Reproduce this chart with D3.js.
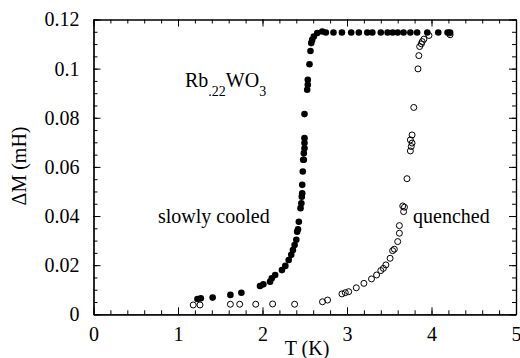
<!DOCTYPE html>
<html>
<head>
<meta charset="utf-8">
<script src="https://cdn.jsdelivr.net/npm/d3@7"></script>
<style>
  body { margin: 0; background: #fff; }
  svg text { font-family: 'Liberation Serif', 'Times New Roman', Times, serif; fill: #000; }
</style>
</head>
<body>
<div class="chart"></div>
<script>
// T (K) and dM (mH)
var slowT = [1.23, 1.27, 1.41, 1.62, 1.75, 1.97, 2.01, 2.09, 2.11, 2.15, 2.23, 2.27, 2.31, 2.34, 2.36, 2.38, 2.40,
  2.41, 2.42, 2.43, 2.45, 2.46, 2.465, 2.47, 2.47, 2.477, 2.482, 2.489, 2.489, 2.497, 2.497, 2.497, 2.497,
  2.529, 2.536, 2.536, 2.556, 2.568, 2.577, 2.588, 2.607, 2.648, 2.707, 2.75, 2.84, 2.94, 3.05, 3.14, 3.24,
  3.30, 3.40, 3.48, 3.54, 3.60, 3.67, 3.75, 3.83, 3.95, 4.08, 4.19, 4.22];
var slowM = [0.0062, 0.0065, 0.0068, 0.0079, 0.0088, 0.0115, 0.0122, 0.0133, 0.0147, 0.0160, 0.0180, 0.0197, 0.0221,
  0.0242, 0.0262, 0.0282, 0.0303, 0.0336, 0.0346, 0.0377, 0.0432, 0.0452, 0.0479, 0.0493, 0.0527, 0.0581,
  0.0629, 0.0629, 0.0656, 0.0676, 0.0697, 0.0717, 0.0815, 0.0914, 0.0934, 0.0955, 0.1018, 0.1072, 0.1104,
  0.1117, 0.1131, 0.1145, 0.1151, 0.1147, 0.1147, 0.1147, 0.1147, 0.1147, 0.1147, 0.1147, 0.1147, 0.1147,
  0.1147, 0.1147, 0.1147, 0.1147, 0.1147, 0.1147, 0.1147, 0.1147, 0.1147];

var quenchT = [1.18, 1.26, 1.62, 1.73, 1.92, 2.12, 2.38, 2.71, 2.77, 2.94, 2.98, 3.02, 3.11, 3.20, 3.29, 3.35,
  3.40, 3.43, 3.46, 3.51, 3.54, 3.56, 3.60, 3.62, 3.62, 3.67, 3.68, 3.66, 3.71, 3.75, 3.76, 3.77, 3.75,
  3.77, 3.79, 3.84, 3.85, 3.86, 3.88, 3.89, 3.91, 3.97, 4.21, 4.22];
var quenchM = [0.0038, 0.0038, 0.0041, 0.0041, 0.0041, 0.0042, 0.0041, 0.0051, 0.0058, 0.0083, 0.0088, 0.0092,
  0.0108, 0.0126, 0.0144, 0.0160, 0.0178, 0.0187, 0.0201, 0.0228, 0.0259, 0.0265, 0.0296, 0.0330, 0.0361,
  0.0418, 0.0436, 0.0441, 0.0552, 0.0665, 0.0683, 0.0697, 0.0710, 0.0730, 0.0842, 0.0999, 0.1053, 0.1090,
  0.1101, 0.1110, 0.1120, 0.1135, 0.1145, 0.1138];

var xTicks = [0, 1, 2, 3, 4, 5];
var yTicks = [0, 0.02, 0.04, 0.06, 0.08, 0.1, 0.12];
var yTickLabels = ['0', '0.02', '0.04', '0.06', '0.08', '0.1', '0.12'];

var svg_width = 520, svg_height = 358,
    svg = d3.select('.chart').append('svg').attr('width', svg_width).attr('height', svg_height),
    pLeft = 93.5, pRight = 516, pTop = 19.5, pBottom = 314.3;

var x = d3.scaleLinear().domain([0, 5]).range([pLeft, pRight]);
var y = d3.scaleLinear().domain([0, 0.12]).range([pBottom, pTop]);

var xMinor = d3.range(0, 5.0001, 0.2);
var yMinor = d3.range(0, 0.12001, 0.005);

var g = svg.append('g');

// bottom
g.append('g').attr('transform', 'translate(0,' + pBottom + ')')
  .call(d3.axisBottom(x).tickValues(xMinor).tickSize(-4).tickSizeOuter(0).tickFormat(''));
g.append('g').attr('transform', 'translate(0,' + pBottom + ')')
  .call(d3.axisBottom(x).tickValues(xTicks).tickSize(-7).tickSizeOuter(0).tickPadding(13).tickFormat(d3.format('d')));
// top
g.append('g').attr('transform', 'translate(0,' + pTop + ')')
  .call(d3.axisTop(x).tickValues(xMinor).tickSize(-4).tickSizeOuter(0).tickFormat(''));
g.append('g').attr('transform', 'translate(0,' + pTop + ')')
  .call(d3.axisTop(x).tickValues(xTicks).tickSize(-7).tickSizeOuter(0).tickFormat(''));
// left
g.append('g').attr('transform', 'translate(' + pLeft + ',0)')
  .call(d3.axisLeft(y).tickValues(yMinor).tickSize(-4).tickSizeOuter(0).tickFormat(''));
g.append('g').attr('transform', 'translate(' + pLeft + ',0)')
  .call(d3.axisLeft(y).tickValues(yTicks).tickSize(-7).tickSizeOuter(0).tickPadding(14)
    .tickFormat(function(d, i) { return yTickLabels[i]; }));
// right
g.append('g').attr('transform', 'translate(' + pRight + ',0)')
  .call(d3.axisRight(y).tickValues(yMinor).tickSize(-4).tickSizeOuter(0).tickFormat(''));
g.append('g').attr('transform', 'translate(' + pRight + ',0)')
  .call(d3.axisRight(y).tickValues(yTicks).tickSize(-7).tickSizeOuter(0).tickFormat(''));

g.selectAll('.domain').attr('stroke', '#000').attr('stroke-width', 1.2);
g.selectAll('.tick line').attr('stroke', '#000').attr('stroke-width', 1);
g.selectAll('.tick text').attr('font-size', 20).attr('fill', '#000');
g.selectAll('g').attr('font-family', null).attr('font-size', null);

// axis titles
svg.append('text').attr('x', 307).attr('y', 355).attr('text-anchor', 'middle')
  .attr('font-size', 20).text('T (K)');
svg.append('text').attr('transform', 'translate(26,166) rotate(-90)').attr('text-anchor', 'middle')
  .attr('font-size', 20).text('\u0394M (mH)');

// annotations
var lab = svg.append('text').attr('x', 185).attr('y', 87).attr('font-size', 20);
lab.append('tspan').text('Rb');
lab.append('tspan').attr('dy', 9).attr('font-size', 14).text('.22');
lab.append('tspan').attr('dy', -9).text('WO');
lab.append('tspan').attr('dy', 9).attr('font-size', 14).text('3');
svg.append('text').attr('x', 158).attr('y', 223).attr('font-size', 20).text('slowly cooled');
svg.append('text').attr('x', 413).attr('y', 223).attr('font-size', 20).text('quenched');

// data
var slow = slowT.map(function(t, i) { return {t: t, m: slowM[i]}; });
var quench = quenchT.map(function(t, i) { return {t: t, m: quenchM[i]}; });

svg.selectAll('.q').data(quench).enter().append('circle')
  .attr('class', 'q')
  .attr('cx', function(d) { return x(d.t); })
  .attr('cy', function(d) { return y(d.m); })
  .attr('r', 3).attr('fill', 'none').attr('stroke', '#000').attr('stroke-width', 1);

svg.selectAll('.s').data(slow).enter().append('circle')
  .attr('class', 's')
  .attr('cx', function(d) { return x(d.t); })
  .attr('cy', function(d) { return y(d.m); })
  .attr('r', 3.3).attr('fill', '#000');
</script>
</body>
</html>
